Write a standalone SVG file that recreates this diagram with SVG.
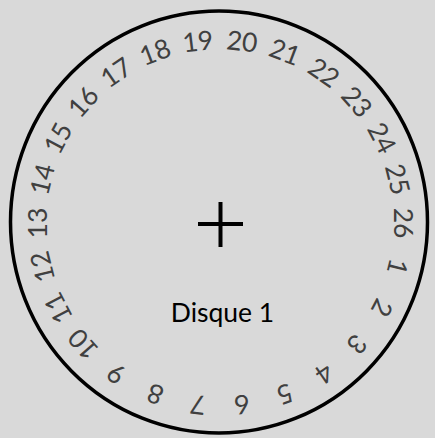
<svg xmlns="http://www.w3.org/2000/svg" width="435" height="438" viewBox="0 0 435 438">
<style>
.n{font-family:Lato,"Open Sans","Liberation Sans",sans-serif;font-size:26.5px;fill:#404040;text-anchor:middle}
.lbl{font-family:Lato,"Open Sans","Liberation Sans",sans-serif;font-size:26.5px;fill:#000;text-anchor:middle}
</style>
<rect width="435" height="438" fill="#d9d9d9"/>
<g id="disque">
<ellipse cx="219" cy="222" rx="208.5" ry="211" fill="none" stroke="#000" stroke-width="3.5"/>
<g id="croix" stroke="#000" stroke-width="4">
<line x1="198" y1="224" x2="243" y2="224"/>
<line x1="220.5" y1="202" x2="220.5" y2="247"/>
</g>
<text class="lbl" x="222.5" y="322">Disque 1</text>
</g>
<g id="nombres">
<text class="n" x="220" y="49.5" transform="rotate(103.846 220 223)">1</text>
<text class="n" x="220" y="49.5" transform="rotate(117.692 220 223)">2</text>
<text class="n" x="220" y="49.5" transform="rotate(131.538 220 223)">3</text>
<text class="n" x="220" y="49.5" transform="rotate(145.385 220 223)">4</text>
<text class="n" x="220" y="49.5" transform="rotate(159.231 220 223)">5</text>
<text class="n" x="220" y="49.5" transform="rotate(173.077 220 223)">6</text>
<text class="n" x="220" y="49.5" transform="rotate(186.923 220 223)">7</text>
<text class="n" x="220" y="49.5" transform="rotate(200.769 220 223)">8</text>
<text class="n" x="220" y="49.5" transform="rotate(214.615 220 223)">9</text>
<text class="n" x="220" y="49.5" transform="rotate(228.462 220 223)">10</text>
<text class="n" x="220" y="49.5" transform="rotate(242.308 220 223)">11</text>
<text class="n" x="220" y="49.5" transform="rotate(256.154 220 223)">12</text>
<text class="n" x="220" y="49.5" transform="rotate(270 220 223)">13</text>
<text class="n" x="220" y="49.5" transform="rotate(283.846 220 223)">14</text>
<text class="n" x="220" y="49.5" transform="rotate(297.692 220 223)">15</text>
<text class="n" x="220" y="49.5" transform="rotate(311.538 220 223)">16</text>
<text class="n" x="220" y="49.5" transform="rotate(325.385 220 223)">17</text>
<text class="n" x="220" y="49.5" transform="rotate(339.231 220 223)">18</text>
<text class="n" x="220" y="49.5" transform="rotate(353.077 220 223)">19</text>
<text class="n" x="220" y="49.5" transform="rotate(6.923 220 223)">20</text>
<text class="n" x="220" y="49.5" transform="rotate(20.769 220 223)">21</text>
<text class="n" x="220" y="49.5" transform="rotate(34.615 220 223)">22</text>
<text class="n" x="220" y="49.5" transform="rotate(48.462 220 223)">23</text>
<text class="n" x="220" y="49.5" transform="rotate(62.308 220 223)">24</text>
<text class="n" x="220" y="49.5" transform="rotate(76.154 220 223)">25</text>
<text class="n" x="220" y="49.5" transform="rotate(90 220 223)">26</text>
</g>
</svg>
